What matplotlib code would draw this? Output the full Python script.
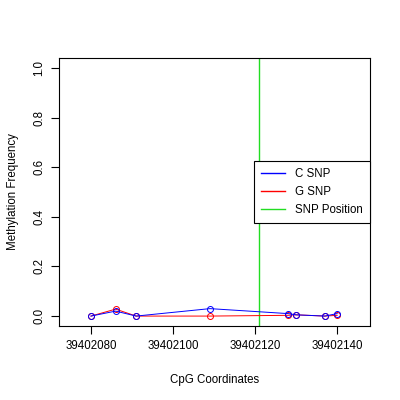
import numpy as np
import matplotlib
matplotlib.use("Agg")
import matplotlib.pyplot as plt
from matplotlib.lines import Line2D

plt.rcParams['font.family'] = ['Liberation Sans', 'DejaVu Sans']

# ==================== data ====================
positions = [39402080, 39402086, 39402091, 39402109, 39402128, 39402130, 39402137, 39402140]
c_snp = [0.0, 0.02, 0.0, 0.03, 0.01, 0.005, 0.0, 0.01]
g_snp = [0.0, 0.028, 0.0, 0.0, 0.003, 0.005, 0.0, 0.003]
snp_position = 39402121

green = "#22dd22"

fig = plt.figure(figsize=(4, 4), dpi=100)
ax = fig.add_axes([59 / 400, 1 - 326 / 400, (370 - 59) / 400, (326 - 58) / 400])

ax.axvline(snp_position, color=green, lw=1.0, zorder=1)
ax.plot(positions, c_snp, color="blue", lw=0.7, marker="o", ms=4.3,
        mfc="none", mec="blue", mew=0.7, zorder=3)
ax.plot(positions, g_snp, color="red", lw=0.7, marker="o", ms=4.3,
        mfc="none", mec="red", mew=0.7, zorder=2)

ax.set_xlim(39402072.2, 39402148)
ax.set_ylim(-0.04, 1.04)
ax.set_xticks([39402080, 39402100, 39402120, 39402140])
ax.set_xticklabels(["39402080", "39402100", "39402120", "39402140"])
ax.set_yticks([0.0, 0.2, 0.4, 0.6, 0.8, 1.0])
ax.set_yticklabels(["0.0", "0.2", "0.4", "0.6", "0.8", "1.0"], rotation=90, va="center")
ax.tick_params(direction="out", length=6, width=0.8, labelsize=8.3, pad=4)
for s in ax.spines.values():
    s.set_linewidth(0.8)

ax.set_xlabel("CpG Coordinates", fontsize=8.3, labelpad=16)
ax.set_ylabel("Methylation Frequency", fontsize=8.3, labelpad=10)

handles = [Line2D([0], [0], color="blue", lw=1.0),
           Line2D([0], [0], color="red", lw=1.0),
           Line2D([0], [0], color=green, lw=1.0)]
leg = ax.legend(handles, ["C SNP", "G SNP", "SNP Position"], loc="center right",
                bbox_to_anchor=(1.0, 0.5), fontsize=8.3, fancybox=False,
                framealpha=1, edgecolor="black", borderaxespad=0,
                handlelength=2.1, handletextpad=0.9, labelspacing=0.55,
                borderpad=0.6)
leg.get_frame().set_linewidth(0.8)

fig.savefig("out.png", dpi=100)
